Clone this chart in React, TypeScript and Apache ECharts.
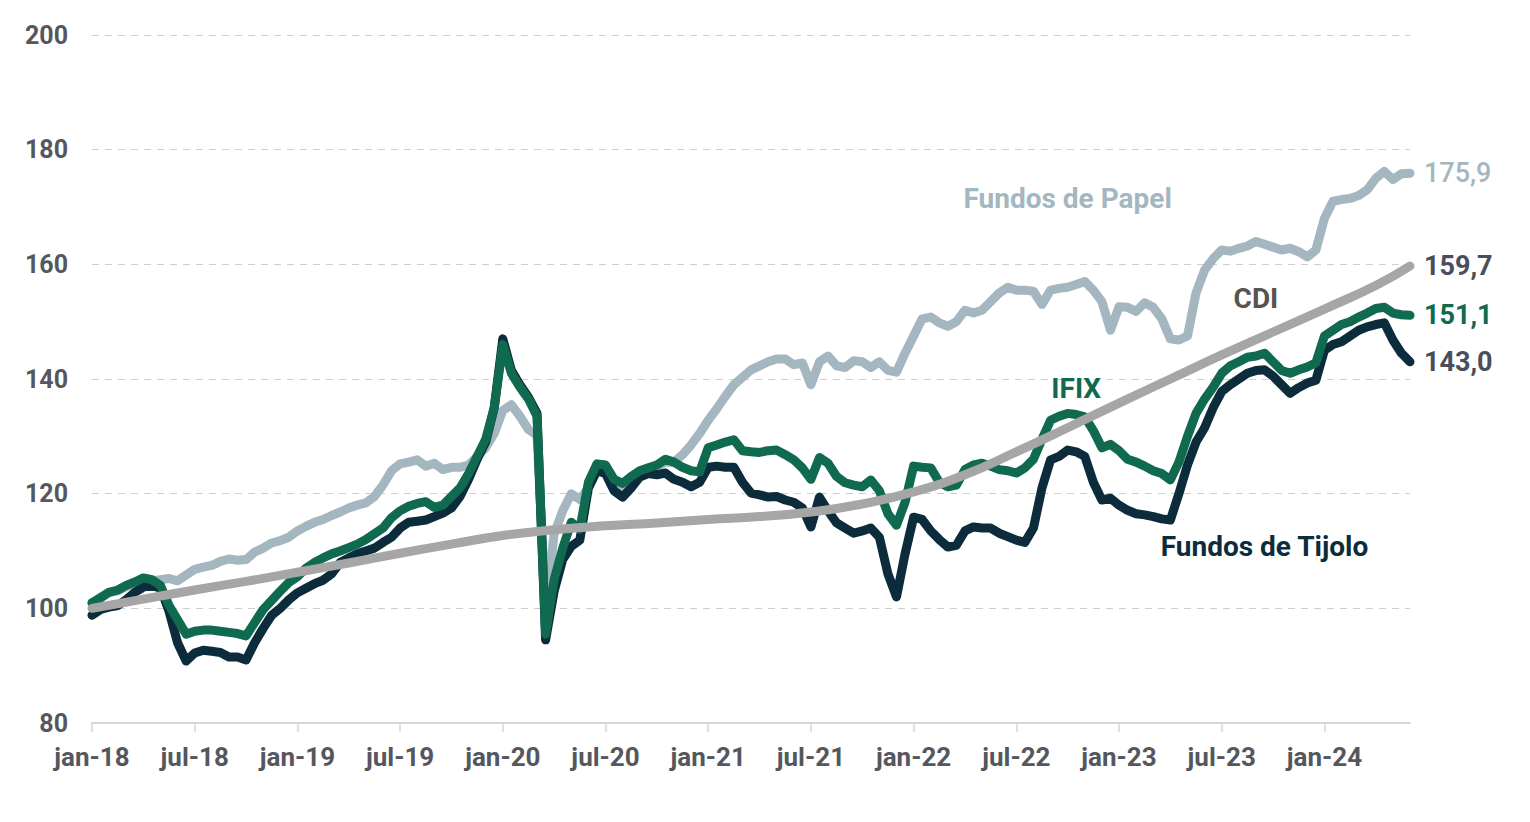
import React, { useEffect, useRef } from "react";
import * as echarts from "echarts";

// Half-month grid from 01-jan-2018 to ~01-jun-2024 (155 points)
const MONTHS_PT = ["jan", "fev", "mar", "abr", "mai", "jun", "jul", "ago", "set", "out", "nov", "dez"];
const START_YEAR = 18;
const POINT_COUNT = 155;

const PAPEL = [
  100.8, 102, 102.8, 103, 103.8, 104.2, 104.5, 104.8, 105, 105.2, 104.8, 105.8,
  106.8, 107.2, 107.5, 108.2, 108.6, 108.4, 108.5, 109.8, 110.5, 111.4, 111.8, 112.4,
  113.5, 114.3, 115, 115.5, 116.2, 116.8, 117.5, 118, 118.4, 119.5, 121.5, 124,
  125.2, 125.5, 125.9, 124.8, 125.3, 124.2, 124.6, 124.6, 125, 126.5, 128, 130.5,
  134.5, 135.5, 133.5, 131.2, 130.2, 100, 113, 117, 120, 119, 121, 124.5,
  124.8, 122, 120.5, 122.5, 123.5, 124, 124.8, 125.5, 125.5, 126.8, 128.5, 130.5,
  132.8, 134.8, 137, 139, 140.3, 141.6, 142.3, 143, 143.5, 143.5, 142.5, 142.8,
  139, 143, 144, 142.3, 142, 143.2, 143, 142, 143, 141.5, 141.2, 144.5,
  147.5, 150.5, 150.8, 149.8, 149.2, 150, 152, 151.5, 152, 153.5, 155, 156,
  155.5, 155.5, 155.3, 153, 155.5, 155.8, 156, 156.5, 157, 155.5, 153.5, 148.5,
  152.6, 152.5, 151.8, 153.3, 152.5, 150.5, 147, 146.8, 147.5, 155, 159, 161,
  162.5, 162.3, 162.8, 163.2, 164, 163.5, 163, 162.5, 162.8, 162.2, 161.3, 162.5,
  168, 171, 171.3, 171.5, 172, 173, 175, 176.2, 174.8, 175.8, 175.9,
];

const IFIX = [
  101, 101.8, 102.8, 103.2, 104, 104.6, 105.3, 105, 104, 100.5, 98, 95.5,
  96, 96.2, 96.2, 96, 95.8, 95.6, 95.2, 97.5, 99.8, 101.4, 103, 104.5,
  105.5, 107, 108, 108.8, 109.5, 110, 110.6, 111.2, 112, 113, 114, 115.8,
  117, 117.8, 118.3, 118.6, 117.6, 118, 119.5, 121, 123.5, 126.5, 129.5, 135,
  146, 141, 138.6, 136.5, 133.5, 95.5, 105, 110.5, 115, 113.8, 122, 125.2,
  125, 122.5, 121.8, 123, 124, 124.5, 125, 126, 125.5, 124.6, 124, 123.8,
  128, 128.5, 129, 129.4, 127.5, 127.3, 127.2, 127.5, 127.6, 126.8, 125.9, 124.5,
  122.5, 126.3, 125.3, 123, 121.9, 121.5, 121.2, 122.4, 120.5, 116.5, 114.5, 118.5,
  124.8, 124.6, 124.5, 122, 121.2, 121.5, 124.2, 125, 125.3, 124.8, 124.2, 124,
  123.6, 124.5, 126, 129.5, 132.8, 133.5, 134, 133.8, 133.4, 131, 128, 128.6,
  127.5, 126, 125.5, 124.8, 124, 123.5, 122.4, 125.5, 130, 134, 136.5, 138.6,
  141, 142.3, 143, 143.8, 144, 144.5, 143, 141.5, 141, 141.6, 142.1, 142.8,
  147.5, 148.5, 149.5, 150, 150.8, 151.5, 152.3, 152.5, 151.5, 151.2, 151.1,
];

const TIJOLO = [
  98.8, 99.8, 100.2, 100.5, 101.5, 102.8, 103.7, 104, 103.5, 99.5, 94, 90.8,
  92.2, 92.7, 92.5, 92.3, 91.5, 91.5, 91, 94, 96.5, 98.8, 100, 101.5,
  102.7, 103.5, 104.3, 104.9, 106, 108, 108.8, 109.5, 110, 110.5, 111.5, 112.4,
  114, 115, 115.2, 115.4, 116, 116.6, 117.5, 119.5, 122.5, 126, 129, 135,
  147, 141.5, 139, 136.8, 134, 94.5, 103, 108.5, 110.8, 111.9, 121, 124,
  123.5, 120.5, 119.4, 121, 122.9, 123.5, 123.3, 123.6, 122.5, 122, 121.2, 122,
  124.6, 124.8, 124.6, 124.6, 122, 120.1, 119.8, 119.4, 119.5, 118.9, 118.5, 117.5,
  114.2, 119.4, 117, 114.9, 114, 113.1, 113.5, 114, 112.4, 106, 102, 109.5,
  115.9, 115.5, 113.5, 112, 110.7, 111, 113.5, 114.2, 114, 114, 113.1, 112.5,
  111.9, 111.5, 114, 121, 125.9, 126.5, 127.6, 127.3, 126.5, 122, 118.9, 119.2,
  118, 117.1, 116.5, 116.3, 116, 115.6, 115.4, 120, 125, 129, 131.5, 135,
  137.8, 139, 140, 141, 141.5, 141.6, 140.5, 139, 137.5, 138.5, 139.3, 139.8,
  145, 146, 146.5, 147.5, 148.5, 149.1, 149.5, 149.8, 146.8, 144.5, 143,
];

// CDI read quarterly (half-month index) — smooth curve
const CDI_INDEX = [0, 6, 12, 18, 24, 30, 36, 42, 48, 54, 60, 66, 72, 78, 84, 90, 96, 102, 108, 114, 120, 126, 132, 138, 144, 150, 154];
const CDI = [100, 101.6, 103.2, 104.7, 106.3, 107.9, 109.6, 111.2, 112.7, 113.7, 114.4, 114.9, 115.5, 116, 116.8, 118.2, 120.3, 123.3, 127.3, 131.5, 135.8, 140, 144.2, 148.2, 152.2, 156.3, 159.7];

const Y_TICKS = [80, 100, 120, 140, 160, 180, 200];

// Inline series names: [half-month index, value]
const NAME_PAPEL = [114, 171.4];
const NAME_CDI = [136, 154.1];
const NAME_IFIX = [115, 138.4];
const NAME_TIJOLO = [137, 110.8];

const COLORS = {
  papel: "#a4b6bf",
  cdi: "#a6a6a6",
  ifix: "#0f6a50",
  tijolo: "#0c2c3c",
  axisText: "#55575e",
  endDark: "#4a4e5a",
  cdiText: "#57544f",
};

const FONT = "Roboto, 'Noto Sans', sans-serif";

function buildCategories() {
  const cats: string[] = [];
  for (let i = 0; i < POINT_COUNT; i++) {
    const m = Math.floor(i / 2);
    const yr = START_YEAR + Math.floor(m / 12);
    const mon = MONTHS_PT[m % 12];
    cats.push(`${i % 2 === 0 ? "01" : "15"}-${mon}-${yr}`);
  }
  return cats;
}

const fmt = (v: number) => v.toFixed(1).replace(".", ",");

function nameMark(pos: number[], text: string, color: string) {
  return {
    silent: true,
    symbol: "circle",
    symbolSize: 1,
    itemStyle: { color: "rgba(0,0,0,0)" },
    label: {
      show: true,
      position: "inside",
      formatter: text,
      color,
      fontFamily: FONT,
      fontWeight: "bold",
      fontSize: 28,
    },
    data: [{ coord: [pos[0], pos[1]] }],
  };
}

export default function App() {
  const ref = useRef<HTMLDivElement>(null);

  useEffect(() => {
    if (!ref.current) return;
    const chart = echarts.init(ref.current, undefined, { renderer: "svg" });
    const categories = buildCategories();
    const tickFilter = (index: number) => index % 12 === 0;

    const lineBase = (color: string, width: number) => ({
      type: "line",
      showSymbol: false,
      symbol: "none",
      lineStyle: { color, width, cap: "round", join: "round" },
      itemStyle: { color },
      emphasis: { disabled: true },
    });

    const endLabel = (color: string, weight: string | number) => ({
      show: true,
      distance: 14,
      color,
      fontFamily: FONT,
      fontWeight: weight,
      fontSize: 27,
      formatter: (p: any) => fmt(Array.isArray(p.value) ? p.value[1] : p.value),
    });

    chart.setOption({
      animation: false,
      backgroundColor: "#ffffff",
      grid: { left: 92, right: 120, top: 35, bottom: 99, containLabel: false },
      xAxis: {
        type: "category",
        data: categories,
        boundaryGap: false,
        axisLine: { show: true, lineStyle: { color: "#d6d6d6", width: 2 } },
        axisTick: { show: true, interval: tickFilter, length: 9, lineStyle: { color: "#d6d6d6", width: 1.5 } },
        axisLabel: {
          interval: tickFilter,
          margin: 21,
          color: COLORS.axisText,
          fontFamily: FONT,
          fontWeight: "bold",
          fontSize: 26,
          formatter: (v: string) => v.slice(3),
        },
        splitLine: { show: false },
      },
      yAxis: {
        type: "value",
        min: Y_TICKS[0],
        max: Y_TICKS[Y_TICKS.length - 1],
        interval: Y_TICKS[1] - Y_TICKS[0],
        axisLine: { show: false },
        axisTick: { show: false },
        axisLabel: {
          margin: 24,
          color: COLORS.axisText,
          fontFamily: FONT,
          fontWeight: "bold",
          fontSize: 25,
        },
        splitLine: { show: true, lineStyle: { color: "#cfcfcf", type: [7, 6], width: 1.2 } },
      },
      series: [
        {
          ...lineBase(COLORS.papel, 9),
          name: "Fundos de Papel",
          data: PAPEL,
          z: 2,
          endLabel: endLabel(COLORS.papel, 500),
          markPoint: nameMark(NAME_PAPEL, "Fundos de Papel", COLORS.papel),
        },
        {
          ...lineBase(COLORS.tijolo, 9),
          name: "Fundos de Tijolo",
          data: TIJOLO,
          z: 3,
          endLabel: endLabel(COLORS.endDark, "bold"),
          markPoint: nameMark(NAME_TIJOLO, "Fundos de Tijolo", COLORS.tijolo),
        },
        {
          ...lineBase(COLORS.ifix, 9),
          name: "IFIX",
          data: IFIX,
          z: 4,
          endLabel: endLabel(COLORS.ifix, "bold"),
          markPoint: nameMark(NAME_IFIX, "IFIX", COLORS.ifix),
        },
        {
          ...lineBase(COLORS.cdi, 9),
          name: "CDI",
          smooth: true,
          data: CDI_INDEX.map((idx, k) => [idx, CDI[k]]),
          z: 5,
          endLabel: endLabel(COLORS.endDark, "bold"),
          markPoint: nameMark(NAME_CDI, "CDI", COLORS.cdiText),
        },
      ],
    });

    return () => chart.dispose();
  }, []);

  return (
    <div
      ref={ref}
      style={{ position: "fixed", left: 0, top: 0, width: 1530, height: 822, background: "#fff" }}
    />
  );
}
